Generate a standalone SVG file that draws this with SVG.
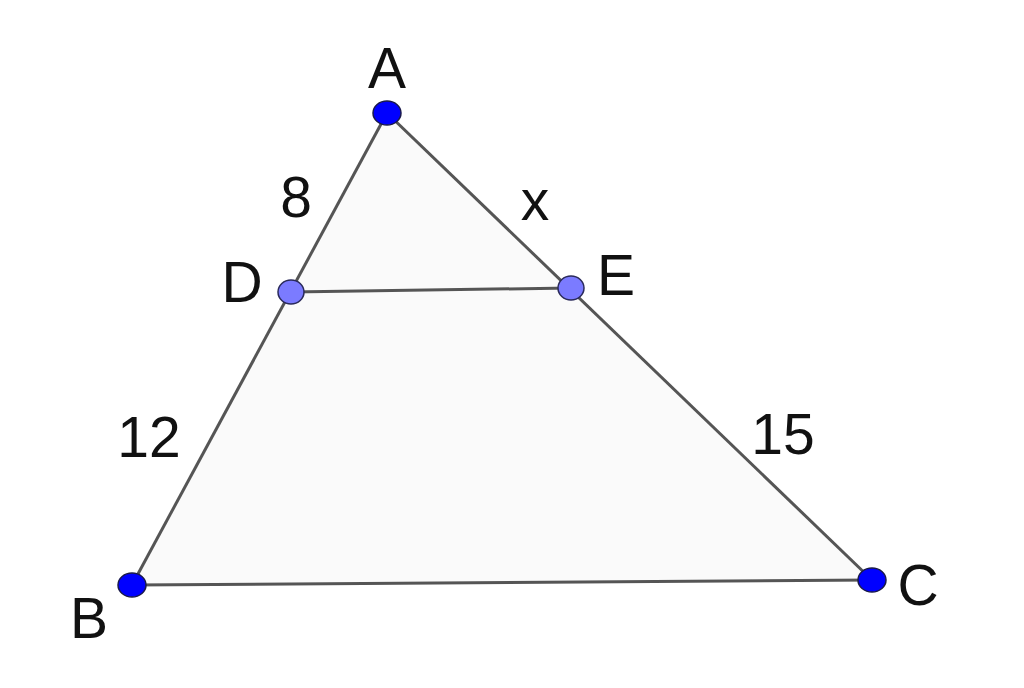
<svg xmlns="http://www.w3.org/2000/svg" width="1024" height="688" viewBox="0 0 1024 688">
<style>
.lbl{font-family:"Liberation Sans",Arial,sans-serif;font-size:57px;fill:#111}
.seg{stroke:#555;stroke-width:3;fill:none}
.pt{fill:#0000ff;stroke:#1a1a4a;stroke-width:1.5}
.pt2{fill:#7b7bff;stroke:#2a2a5a;stroke-width:1.5}
</style>
<rect width="1024" height="688" fill="#fff"/>
<polygon points="387,113 132,585 872,580" fill="#fafafa" stroke="none"/>
<g id="connectors">
<line class="seg" x1="387" y1="113" x2="132" y2="585"/>
<line class="seg" x1="387" y1="113" x2="872" y2="580"/>
<line class="seg" x1="132" y1="585" x2="872" y2="580"/>
<line class="seg" x1="291" y1="292" x2="571" y2="288"/>
</g>
<g id="A"><ellipse class="pt" cx="387" cy="113" rx="14" ry="12"/><text class="lbl" x="387" y="88" text-anchor="middle">A</text></g>
<g id="D"><ellipse class="pt2" cx="291" cy="292" rx="13" ry="12"/><text class="lbl" x="242" y="302" text-anchor="middle">D</text></g>
<g id="E"><ellipse class="pt2" cx="571" cy="288" rx="13" ry="12"/><text class="lbl" x="616" y="295" text-anchor="middle">E</text></g>
<g id="B"><ellipse class="pt" cx="132" cy="585" rx="14" ry="12"/><text class="lbl" x="89" y="638" text-anchor="middle">B</text></g>
<g id="C"><ellipse class="pt" cx="872" cy="580" rx="14" ry="12"/><text class="lbl" x="918" y="605" text-anchor="middle">C</text></g>
<g id="labels">
<text class="lbl" x="296" y="217" text-anchor="middle">8</text>
<text class="lbl" x="535" y="220" text-anchor="middle">x</text>
<text class="lbl" x="149" y="457" text-anchor="middle">12</text>
<text class="lbl" x="783" y="454" text-anchor="middle">15</text>
</g>
</svg>
